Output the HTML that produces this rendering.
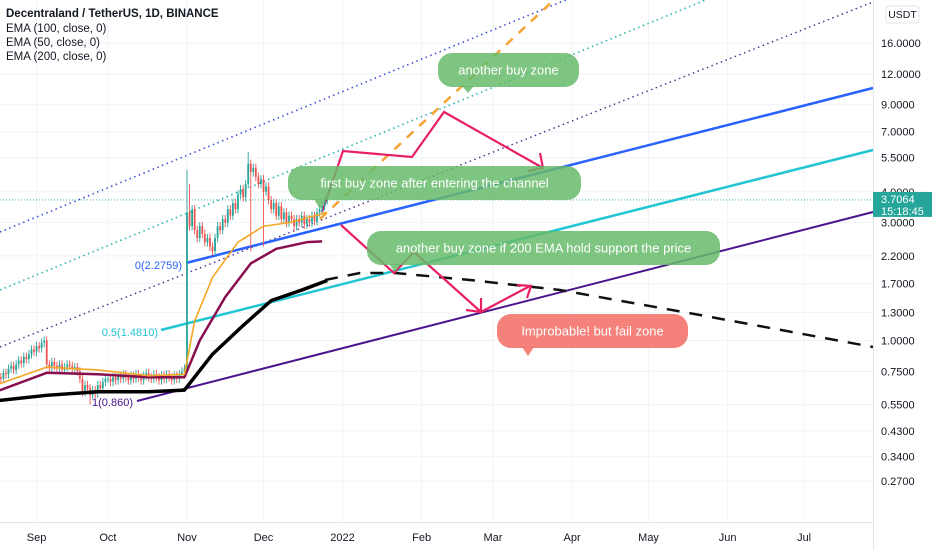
<!DOCTYPE html>
<html><head><meta charset="utf-8">
<style>
body{margin:0;background:#fff;}
svg{display:block;font-family:"Liberation Sans",sans-serif;}
</style></head>
<body>
<svg id="chart" width="932" height="550" viewBox="0 0 932 550" xmlns="http://www.w3.org/2000/svg">
<rect width="932" height="550" fill="#fff"/>
<g id="grid"></g>
<g id="drawings"></g>
<g id="candles"></g>
<g id="emas"></g>
<g id="notes"></g>
<g id="axes"></g>
<g font-size="11.5" fill="#131722">
<text x="6" y="17" font-weight="bold">Decentraland / TetherUS, 1D, BINANCE</text>
<text x="6" y="32">EMA (100, close, 0)</text>
<text x="6" y="46">EMA (50, close, 0)</text>
<text x="6" y="60">EMA (200, close, 0)</text>
</g>
</svg>
<script>
const priceTicks=[16,12,9,7,5.5,4,3,2.2,1.7,1.3,1.0,0.75,0.55,0.43,0.34,0.27];
const priceTickLabels=["16.0000","12.0000","9.0000","7.0000","5.5000","4.0000","3.0000","2.2000","1.7000","1.3000","1.0000","0.7500","0.5500","0.4300","0.3400","0.2700"];
const monthLabels=["Sep","Oct","Nov","Dec","2022","Feb","Mar","Apr","May","Jun","Jul"];
const monthDayOffsets=[-59,-31,0,30,61,92,120,151,181,212,242]; // days from Nov 1
const closes=[0.68,0.71,0.70,0.74,0.73,0.77,0.79,0.76,0.80,0.83,0.81,0.86,0.84,0.88,
0.92,0.90,0.95,0.93,0.98,1.0,0.80,0.78,0.82,0.79,0.77,0.80,0.76,0.78,0.80,0.79,0.77,0.78,0.75,0.70,0.62,0.66,0.64,0.60,0.63,0.61,0.66,0.64,0.68,0.70,
0.70,0.68,0.71,0.69,0.72,0.70,0.73,0.71,0.69,0.72,0.70,0.73,0.71,0.69,0.72,0.74,0.71,0.70,0.73,0.71,0.69,0.72,0.70,0.73,0.71,0.69,0.72,0.70,0.73,0.75,0.77,
3.3,2.9,3.4,2.8,2.6,2.9,2.7,2.5,2.6,2.4,2.3,2.6,2.9,2.8,3.1,3.0,3.4,3.2,3.6,3.4,3.9,4.1,3.8,4.3,5.2,4.8,5.0,4.6,4.3,4.5,
4.0,4.2,3.7,3.4,3.6,3.2,3.5,3.1,3.3,3.0,3.2,3.1,2.9,3.1,3.0,3.2,2.95,3.1,3.0,3.2,3.05,3.3,3.4,3.5,3.7,3.71];
const firstOpen=0.66;
const highOverrides={75:4.9,76:4.3,99:5.8,100:5.4};
const lowOverrides={37:0.55,75:0.75,100:2.3,105:2.4};
const ema50=[[0,0.66],[20,0.78],[40,0.76],[60,0.72],[74,0.73],[78,1.2],[85,1.8],[95,2.5],[105,2.9],[115,3.0],[130,3.3]];
const ema100=[[0,0.62],[20,0.74],[40,0.73],[60,0.71],[74,0.71],[80,1.0],[90,1.5],[100,2.05],[110,2.35],[122,2.5],[128,2.52]];
const ema200=[[0,0.57],[20,0.6],[40,0.62],[60,0.62],[74,0.63],[85,0.88],[97,1.15],[108,1.45],[120,1.6],[130,1.75]];
const lastPrice=3.7064;

const NS="http://www.w3.org/2000/svg";
function yP(p){return 340.5-107.3*Math.log(p);}
function xD(i){return 187+(i-75)*2.55;}
function el(tag,attrs,parent){const e=document.createElementNS(NS,tag);for(const k in attrs)e.setAttribute(k,attrs[k]);parent.appendChild(e);return e;}
const grid=document.getElementById('grid'),axes=document.getElementById('axes');
priceTicks.forEach((p,i)=>{
 const g=el('line',{x1:0,x2:873,y1:yP(p),y2:yP(p),stroke:'#f0f3fa'},grid);
 
 
 const t=el('text',{x:881,y:yP(p)+4,'font-size':11,fill:'#131722'},axes);
 t.textContent=priceTickLabels[i];
 
 
});
monthLabels.forEach((m,i)=>{
 const x=xD(75+monthDayOffsets[i]);
 const g=el('line',{x1:x,x2:x,y1:0,y2:522,stroke:'#f0f3fa'},grid);
 
 
 const t=el('text',{x:x,y:541,'font-size':11,fill:'#131722','text-anchor':'middle'},axes);
 t.textContent=m;
 
 
});
let a=el('line',{x1:873.5,x2:873.5,y1:0,y2:550,stroke:'#e0e3eb'},axes);


a=el('line',{x1:0,x2:873,y1:522.5,y2:522.5,stroke:'#e0e3eb'},axes);


a=el('rect',{x:886,y:6,width:33,height:17,rx:3,fill:'#fff',stroke:'#e0e3eb'},axes);


a=el('text',{x:902.5,y:18,'font-size':10.5,'text-anchor':'middle',fill:'#131722'},axes);a.textContent='USDT';


const ly=yP(lastPrice);
a=el('line',{x1:0,x2:873,y1:ly,y2:ly,stroke:'#26a69a','stroke-dasharray':'1 2','stroke-width':0.8},grid);


a=el('rect',{x:873,y:ly-8,width:59,height:25,fill:'#26a69a'},axes);


a=el('text',{x:881,y:ly+3,'font-size':11,fill:'#fff'},axes);a.textContent=lastPrice.toFixed(4);


a=el('text',{x:881,y:ly+15,'font-size':11,fill:'#fff'},axes);a.textContent='15:18:45';



const dr=document.getElementById('drawings');
function line(pts,attrs,name){const e=el('polyline',Object.assign({points:pts.map(p=>p.join(',')).join(' '),fill:'none'},attrs),dr);
 
 return e;}
line([[0,232],[600,-14]],{stroke:'#3f51d6','stroke-width':1.6,'stroke-dasharray':'1.5 3.5'},'channel-upper-dotted');
line([[0,290],[720,-6]],{stroke:'#26b5b0','stroke-width':1.6,'stroke-dasharray':'1.5 3.5'},'channel-mid-dotted');
line([[0,347],[873,2]],{stroke:'#4a2a8a','stroke-width':1.4,'stroke-dasharray':'1.5 3.5'},'channel-lower-dotted');
line([[186,263],[873,88]],{stroke:'#2962ff','stroke-width':2.5},'fib-0-line');
line([[161,330],[873,150]],{stroke:'#22c5d2','stroke-width':2.5},'fib-0.5-line');
line([[137,401],[873,212]],{stroke:'#4a148c','stroke-width':2},'fib-1-line');
line([[320,219],[556,-2]],{stroke:'#f7a334','stroke-width':2.5,'stroke-dasharray':'9 8'},'orange-projection');
line([[325,280],[360,273],[395,273],[470,280],[560,290],[700,315],[873,347]],{stroke:'#111','stroke-width':2.5,'stroke-dasharray':'13 10'},'ema-projection');
const pk={stroke:'#e91e63','stroke-width':2.2,'stroke-linejoin':'miter'};
line([[322,212],[343,151],[412,157],[444,112],[543,168]],pk,'scenario-path-up');
line([[540,153],[543,168],[528,171]],pk,'arrowhead-up');
line([[341,225],[394,273],[414,252],[481,312]],pk,'scenario-path-down');
line([[481,298],[481,312],[466,310]],pk,'arrowhead-down');
line([[481,312],[530,286]],pk,'scenario-rebound');
line([[517,285],[531,286],[527,298]],pk,'arrowhead-rebound');
const fl=[["0(2.2759)",182,269,'#2962ff'],["0.5(1.4810)",158,336,'#22c5d2'],["1(0.860)",133,406,'#4a148c']];
fl.forEach(f=>{const t=el('text',{x:f[1],y:f[2],'font-size':11,fill:f[3],'text-anchor':'end'},dr);t.textContent=f[0];
 
 });

const cg=document.getElementById('candles');
closes.forEach((c,i)=>{
 const o=i===0?firstOpen:closes[i-1];
 const up=c>=o,col=up?'#26a69a':'#ef5350',x=xD(i);
 const hi=highOverrides[i]||Math.max(o,c)*1.04, lo=lowOverrides[i]||Math.min(o,c)*0.96;
 const w=el('line',{x1:x,x2:x,y1:yP(hi),y2:yP(lo),stroke:col,'stroke-width':0.9},cg);
 
 
 const b=el('rect',{x:x-0.9,width:1.8,y:yP(Math.max(o,c)),height:Math.max(1,Math.abs(yP(o)-yP(c))),fill:col},cg);
 
 
});
const eg=document.getElementById('emas');
function emaLine(arr,col,w,name){const e=el('polyline',{points:arr.map(p=>xD(p[0])+','+yP(p[1])).join(' '),fill:'none',stroke:col,'stroke-width':w,'stroke-linejoin':'round'},eg);
 
 }
emaLine(ema200,'#000',3.5,'ema-200-line');
emaLine(ema100,'#880e4f',2.5,'ema-100-line');
emaLine(ema50,'#f5a623',1.6,'ema-50-line');

const ng=document.getElementById('notes');
function note(x,y,w,h,tx,ty,col,text,name){
 const g=el('g',{},ng);
 
 
 el('path',{d:`M${tx-6},${y+h-1} L${tx},${ty} L${tx+6},${y+h-1}Z`,fill:col},g);
 el('rect',{x:x,y:y,width:w,height:h,rx:14,fill:col},g);
 const t=el('text',{x:x+w/2,y:y+h/2+4.5,'font-size':13,fill:'#fff','text-anchor':'middle'},g);t.textContent=text;
}
note(438,53,141,34,468,93,'rgba(102,187,106,0.85)','another buy zone','note-another-buy-zone');
note(288,166,293,34,320,209,'rgba(102,187,106,0.85)','first buy zone after entering the channel','note-first-buy-zone');
note(367,231,353,34,395,272,'rgba(102,187,106,0.85)','another buy zone if 200 EMA hold support the price','note-ema-buy-zone');
note(497,314,191,34,528,356,'rgba(242,108,100,0.85)','Improbable! but fail zone','note-fail-zone');
</script>
</body></html>
